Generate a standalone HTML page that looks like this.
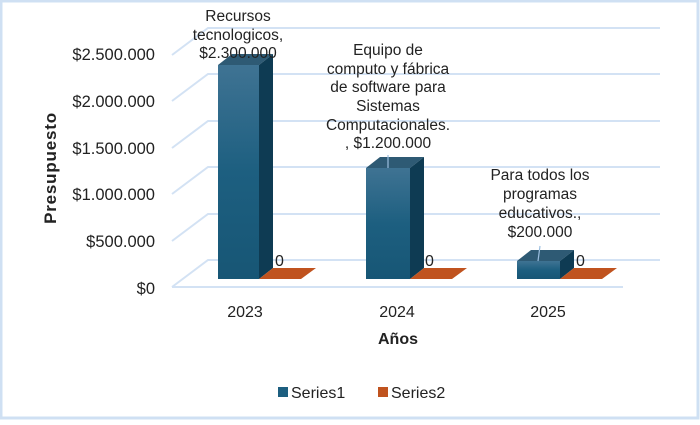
<!DOCTYPE html>
<html><head><meta charset="utf-8"><style>
body{margin:0;background:#fff}
svg text{font-family:"Liberation Sans",sans-serif;fill:#222}
</style></head><body>
<svg width="700" height="420" xmlns="http://www.w3.org/2000/svg">
<defs>
<linearGradient id="g" x1="0" y1="0" x2="0" y2="1"><stop offset="0" stop-color="#3f7393"/><stop offset="0.5" stop-color="#1d5f80"/><stop offset="1" stop-color="#175675"/></linearGradient>
</defs>
<rect x="1" y="1" width="697" height="417" fill="#fff" stroke="#cfe0f3" stroke-width="3"/>
<g stroke="#d3e2f4" stroke-width="2" fill="none">
<path d="M172 287 L208 260 H660"/>
<path d="M172 241 L208 214 H660"/>
<path d="M172 194 L208 167 H660"/>
<path d="M172 148 L208 121 H660"/>
<path d="M172 101 L208 74 H660"/>
<path d="M172 55 L208 28 H660"/>
<path d="M172 287 H623"/>
</g>
<g>
<polygon points="218,65 232,54 273,54 259,65" fill="#2e5a74"/>
<polygon points="259,65 273,54 273,268 259,279" fill="#0e3b53"/>
<rect x="218" y="65" width="41" height="214" fill="url(#g)"/>
<polygon points="259,279 301,279 316,268 273,268" fill="#c0531f"/>

<polygon points="366,168 380,157 424,157 410,168" fill="#2e5a74"/>
<polygon points="410,168 424,157 424,268 410,279" fill="#0e3b53"/>
<rect x="366" y="168" width="44" height="111" fill="url(#g)"/>
<polygon points="410,279 452,279 467,268 424,268" fill="#c0531f"/>

<polygon points="517,261 531,250 574,250 560,261" fill="#2e5a74"/>
<polygon points="560,261 574,250 574,268 560,279" fill="#0e3b53"/>
<rect x="517" y="261" width="43" height="18" fill="url(#g)"/>
<polygon points="560,279 602,279 617,268 574,268" fill="#c0531f"/>
</g>
<g stroke="#9bbfe0" stroke-width="1.2"><line x1="388" y1="155" x2="388" y2="168"/><line x1="540" y1="246" x2="538" y2="261"/></g>
<g font-size="16.5" text-anchor="end">
<text x="155" y="294">$0</text>
<text x="155" y="247">$500.000</text>
<text x="155" y="200">$1.000.000</text>
<text x="155" y="154">$1.500.000</text>
<text x="155" y="107">$2.000.000</text>
<text x="155" y="60">$2.500.000</text>
</g>
<text x="0" y="0" font-size="17" font-weight="bold" text-anchor="middle" letter-spacing="0.8" transform="translate(56,168) rotate(-90)">Presupuesto</text>
<g font-size="16" text-anchor="middle">
<text x="245" y="317">2023</text><text x="397" y="317">2024</text><text x="548" y="317">2025</text>
</g>
<text x="398" y="344" font-size="16" font-weight="bold" text-anchor="middle">Años</text>
<g font-size="15.5" text-anchor="middle">
<text x="238" y="21">Recursos</text><text x="238" y="40">tecnologicos,</text><text x="238" y="58">$2.300.000</text>
<text x="388" y="55">Equipo de</text><text x="388" y="74">computo y fábrica</text><text x="388" y="92">de software para</text><text x="388" y="111">Sistemas</text><text x="388" y="130">Computacionales.</text><text x="388" y="148">, $1.200.000</text>
<text x="540" y="180">Para todos los</text><text x="540" y="199">programas</text><text x="540" y="218">educativos.,</text><text x="540" y="237">$200.000</text>
</g>
<g font-size="16"><text x="275" y="266">0</text><text x="425" y="266">0</text><text x="576" y="266">0</text></g>
<rect x="278" y="387" width="10" height="10" fill="#1d5f80"/>
<text x="291" y="398" font-size="16">Series1</text>
<rect x="378" y="387" width="10" height="10" fill="#c0531f"/>
<text x="391" y="398" font-size="16">Series2</text>
</svg>
</body></html>
